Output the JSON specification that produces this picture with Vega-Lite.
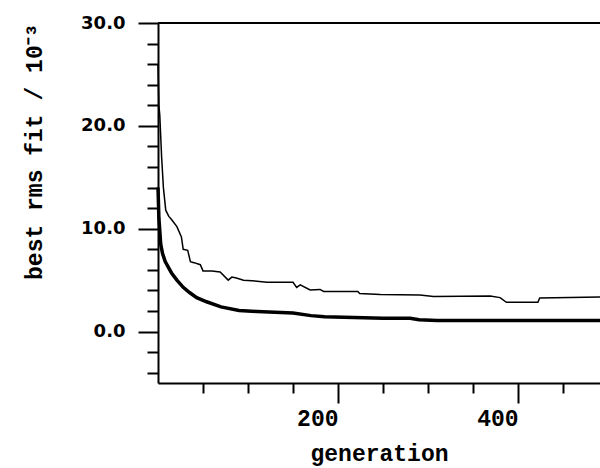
{
  "$schema": "https://vega.github.io/schema/vega-lite/v6.json",
  "width": 442,
  "height": 360,
  "autosize": {"type": "none"},
  "padding": {"left": 158, "top": 23, "right": 0, "bottom": 85},
  "background": "white",
  "config": {
    "view": {"stroke": null},
    "axis": {"domainColor": "black", "domainWidth": 2, "tickColor": "black", "tickWidth": 2, "labelColor": "black", "titleColor": "black", "grid": false, "labelOverlap": false}
  },
  "data": {"values": [
    {"run": "thin", "generation": 0, "rms": 26},
    {"run": "thin", "generation": 1, "rms": 22},
    {"run": "thin", "generation": 2, "rms": 21},
    {"run": "thin", "generation": 4, "rms": 17},
    {"run": "thin", "generation": 6, "rms": 14},
    {"run": "thin", "generation": 8.6, "rms": 11.8},
    {"run": "thin", "generation": 12, "rms": 11.2},
    {"run": "thin", "generation": 15, "rms": 10.9},
    {"run": "thin", "generation": 21, "rms": 10.2},
    {"run": "thin", "generation": 26, "rms": 9.2},
    {"run": "thin", "generation": 28, "rms": 8.0},
    {"run": "thin", "generation": 33, "rms": 7.9},
    {"run": "thin", "generation": 36, "rms": 6.8},
    {"run": "thin", "generation": 40, "rms": 6.7},
    {"run": "thin", "generation": 47, "rms": 6.5},
    {"run": "thin", "generation": 50, "rms": 5.9},
    {"run": "thin", "generation": 60, "rms": 5.9},
    {"run": "thin", "generation": 69, "rms": 5.8},
    {"run": "thin", "generation": 78, "rms": 5.0},
    {"run": "thin", "generation": 82, "rms": 5.3},
    {"run": "thin", "generation": 87, "rms": 5.2},
    {"run": "thin", "generation": 95, "rms": 5.0},
    {"run": "thin", "generation": 110, "rms": 4.9},
    {"run": "thin", "generation": 121, "rms": 4.8},
    {"run": "thin", "generation": 150, "rms": 4.8},
    {"run": "thin", "generation": 154, "rms": 4.3},
    {"run": "thin", "generation": 158, "rms": 4.55},
    {"run": "thin", "generation": 169, "rms": 4.05},
    {"run": "thin", "generation": 180, "rms": 4.1},
    {"run": "thin", "generation": 184, "rms": 3.9},
    {"run": "thin", "generation": 222, "rms": 3.9},
    {"run": "thin", "generation": 224, "rms": 3.7},
    {"run": "thin", "generation": 247, "rms": 3.6},
    {"run": "thin", "generation": 291, "rms": 3.55},
    {"run": "thin", "generation": 306, "rms": 3.4},
    {"run": "thin", "generation": 369, "rms": 3.45},
    {"run": "thin", "generation": 380, "rms": 3.3},
    {"run": "thin", "generation": 387, "rms": 2.85},
    {"run": "thin", "generation": 422, "rms": 2.85},
    {"run": "thin", "generation": 424, "rms": 3.27},
    {"run": "thin", "generation": 491, "rms": 3.35},
    {"run": "thick", "generation": 0, "rms": 14},
    {"run": "thick", "generation": 1, "rms": 11},
    {"run": "thick", "generation": 2, "rms": 9.8},
    {"run": "thick", "generation": 3, "rms": 8.5},
    {"run": "thick", "generation": 5, "rms": 7.6},
    {"run": "thick", "generation": 8, "rms": 6.8},
    {"run": "thick", "generation": 15, "rms": 5.7},
    {"run": "thick", "generation": 21, "rms": 5.0},
    {"run": "thick", "generation": 28, "rms": 4.3},
    {"run": "thick", "generation": 35, "rms": 3.8},
    {"run": "thick", "generation": 43, "rms": 3.3},
    {"run": "thick", "generation": 54, "rms": 2.9},
    {"run": "thick", "generation": 70, "rms": 2.4},
    {"run": "thick", "generation": 90, "rms": 2.05},
    {"run": "thick", "generation": 110, "rms": 1.95},
    {"run": "thick", "generation": 150, "rms": 1.8},
    {"run": "thick", "generation": 170, "rms": 1.55},
    {"run": "thick", "generation": 185, "rms": 1.45},
    {"run": "thick", "generation": 250, "rms": 1.3},
    {"run": "thick", "generation": 280, "rms": 1.3},
    {"run": "thick", "generation": 290, "rms": 1.15},
    {"run": "thick", "generation": 310, "rms": 1.07},
    {"run": "thick", "generation": 491, "rms": 1.07}
  ]},
  "resolve": {"axis": {"x": "independent", "y": "independent"}},
  "layer": [
    {
      "transform": [{"filter": "datum.run === 'thin'"}],
      "mark": {"type": "line", "color": "black", "strokeWidth": 1.5},
      "encoding": {
        "x": {
          "field": "generation", "type": "quantitative",
          "scale": {"domain": [0, 491], "nice": false, "zero": false},
          "axis": {
            "orient": "bottom",
            "values": [200, 400],
            "tickSize": 20,
            "labelAlign": "right",
            "labelFlush": false,
            "labelOverlap": false,
            "labelFont": "Liberation Mono", "labelFontSize": 23, "labelFontWeight": "bold",
            "labelPadding": 4,
            "title": "generation",
            "titleFont": "Liberation Mono", "titleFontSize": 23, "titleFontWeight": "bold",
            "titlePadding": 12
          }
        },
        "y": {
          "field": "rms", "type": "quantitative",
          "scale": {"domain": [-5, 30], "nice": false, "zero": false},
          "axis": {
            "orient": "left",
            "values": [0, 10, 20, 30],
            "format": ".1f",
            "tickSize": 20,
            "labelOverlap": false,
            "labelFlush": false,
            "labelFont": "DejaVu Sans", "labelFontSize": 18, "labelFontWeight": "bold",
            "labelPadding": 13,
            "title": "best rms fit / 10⁻³",
            "titleAnchor": "end",
            "titleFont": "Liberation Mono", "titleFontSize": 23, "titleFontWeight": "bold",
            "titlePadding": 34
          }
        }
      }
    },
    {
      "transform": [{"filter": "datum.run === 'thick'"}],
      "mark": {"type": "line", "color": "black", "strokeWidth": 3.5},
      "encoding": {
        "x": {
          "field": "generation", "type": "quantitative",
          "axis": {"orient": "bottom", "values": [50, 100, 150, 250, 300, 350, 450], "tickSize": 10, "labels": false, "domain": false, "title": null}
        },
        "y": {
          "field": "rms", "type": "quantitative",
          "axis": {"orient": "left", "values": [-4, -2, 2, 4, 6, 8, 12, 14, 16, 18, 22, 24, 26, 28], "tickSize": 11, "labels": false, "domain": false, "title": null}
        }
      }
    },
    {
      "mark": {"type": "rule", "color": "black", "strokeWidth": 2},
      "encoding": {"y": {"datum": 30, "type": "quantitative", "axis": null}}
    }
  ]
}
